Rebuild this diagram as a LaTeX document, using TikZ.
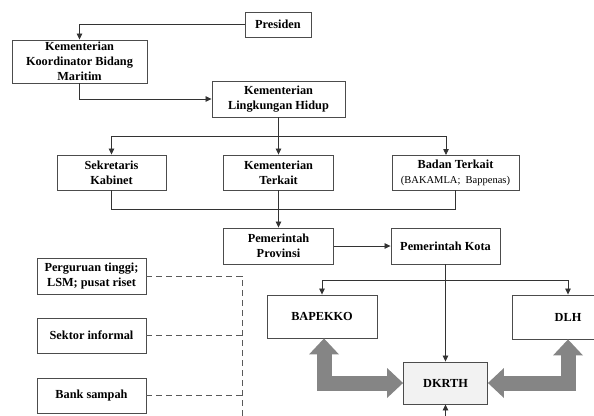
\documentclass[tikz,border=0pt]{standalone}
\usepackage{fontspec}
\setmainfont{Liberation Serif}
\usetikzlibrary{arrows.meta,calc}

\begin{document}
\begin{tikzpicture}[
    x=1pt, y=-1pt,
    box/.style={draw=black!70, line width=0.9pt, align=center, inner sep=0.5pt,
        font=\bfseries\fontsize{12.3}{15.2}\selectfont},
    sized/.style 2 args={box, minimum width=#1pt, minimum height=#2pt},
    link/.style={draw=black!80, line width=0.8pt},
    arr/.style={link, -{Triangle[length=6pt,width=5.5pt]}},
    dashline/.style={draw=black!65, line width=0.8pt, dash pattern=on 6pt off 4pt},
    fat/.style={draw=black!48, line width=15pt, line join=miter,
        {Triangle[width=30pt,length=16pt,line width=0pt]}-{Triangle[width=30pt,length=16pt,line width=0pt]}}
]
\clip (0,0) rectangle (594,415);

% === top of the hierarchy ===
\node[sized={66}{25}] (pres) at (278,24.5) {Presiden};
\node[sized={135}{43}] (kkb) at (79.5,61.5) {Kementerian\\Koordinator Bidang\\Maritim};
\node[sized={133}{36}] (klh) at (278.5,99) {Kementerian\\Lingkungan Hidup};

\node[sized={109}{35}] (sek) at (111.5,172.5) {Sekretaris\\Kabinet};
\node[sized={110}{35}] (kt) at (278.5,172.5) {Kementerian\\Terkait};
\node[sized={127}{35}] (bt) at (455.5,172.5) {Badan Terkait\\{\mdseries\fontsize{10.5}{12.5}\selectfont (BAKAMLA;\ \ Bappenas)}};

% === regional level ===
\node[sized={110}{36}] (prov) at (278.5,246) {Pemerintah\\Provinsi};
\node[sized={109}{36}] (kota) at (445.5,246) {Pemerintah Kota};
\node[sized={110}{43}] (bap) at (322,316.5) {BAPEKKO};
\node[sized={112}{44}] (dlh) at (568,317) {DLH};
\node[sized={84}{42}, fill=black!5] (dkrth) at (445.5,383) {DKRTH};

% === stakeholders ===
\node[sized={109}{36}] (univ) at (91.5,276) {Perguruan tinggi;\\LSM; pusat riset};
\node[sized={109}{35}] (inf) at (91.5,335.5) {Sektor informal};
\node[sized={109}{35}] (bank) at (91.5,395.5) {Bank sampah};

\coordinate (top) at (0,136);
\coordinate (low) at (0,209);
\coordinate (mid) at (0,280);
\coordinate (btin) at (446,155);
\coordinate (bus) at (242,276);
\coordinate (busend) at (242,420);
\coordinate (below) at (445.5,425);

\draw[arr] (pres.west) -| (kkb.north);
\draw[arr] (kkb.south) |- (klh.west);

\draw[link] (klh.south) -- (klh.south |- top);
\draw[link] (sek.north |- top) -- (btin |- top);
\draw[arr] (sek.north |- top) -- (sek.north);
\draw[arr] (kt.north |- top) -- (kt.north);
\draw[arr] (btin |- top) -- (btin);

\draw[link] (sek.south) |- (bt.south |- low) -- (bt.south);
\draw[arr] (kt.south) -- (prov.north);
\draw[arr] (prov.east) -- (kota.west);
\draw[arr] (kota.south) -- (dkrth.north);

\draw[link] (bap.north |- mid) -- (dlh.north |- mid);
\draw[arr] (bap.north |- mid) -- (bap.north);
\draw[arr] (dlh.north |- mid) -- (dlh.north);
\draw[arr] (below) -- (dkrth.south);

\draw[fat] ([xshift=2pt]bap.south) |- (dkrth.west);
\draw[fat] (dlh.south) |- (dkrth.east);

\draw[dashline] (univ.east) -- (bus) -- (busend);
\draw[dashline] (inf.east) -- (inf.east -| bus);
\draw[dashline] (bank.east) -- (bank.east -| bus);

\end{tikzpicture}
\end{document}
